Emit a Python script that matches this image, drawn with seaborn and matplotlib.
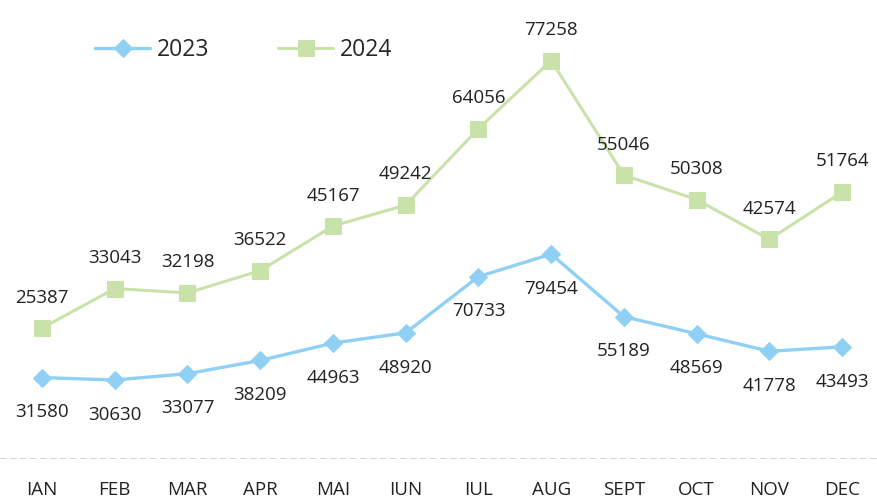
import pandas as pd
import matplotlib.pyplot as plt
import seaborn as sns

months = ["IAN", "FEB", "MAR", "APR", "MAI", "IUN",
          "IUL", "AUG", "SEPT", "OCT", "NOV", "DEC"]
sales_2023 = [31580, 30630, 33077, 38209, 44963, 48920,
              70733, 79454, 55189, 48569, 41778, 43493]
sales_2024 = [25387, 33043, 32198, 36522, 45167, 49242,
              64056, 77258, 55046, 50308, 42574, 51764]

BLUE = "#8fd0f4"
GREEN = "#c9e2aa"

sns.set_style("white")
plt.rcParams["font.family"] = ["Open Sans", "DejaVu Sans"]

df = pd.DataFrame({"pos": range(len(months)), "month": months,
                   "y2023": sales_2023, "y2024": sales_2024})

fig = plt.figure(figsize=(8.77, 5.01), dpi=100)
ax = fig.add_axes([0.0, 42 / 501, 1.0, 459 / 501])
ax2 = ax.twinx()

# 2023 on the primary axis
sns.lineplot(data=df, x="pos", y="y2023", ax=ax, color=BLUE, linewidth=2.4,
             marker="D", markersize=9, markeredgecolor=BLUE, label="2023",
             legend=False)
# 2024 on the secondary axis
sns.lineplot(data=df, x="pos", y="y2024", ax=ax2, color=GREEN, linewidth=2.2,
             marker="s", markersize=11, markeredgecolor=GREEN, label="2024",
             legend=False)

ax.set_ylim(0, 178000)
ax2.set_ylim(0, 89000)
ax.set_xlim(-0.5775, 11.48)

for x, v in zip(df["pos"], df["y2023"]):
    ax.annotate(f"{v}", (x, v), xytext=(0, -25), textcoords="offset points",
                ha="center", va="center", fontsize=13.5, color="#222222")
for x, v in zip(df["pos"], df["y2024"]):
    ax2.annotate(f"{v}", (x, v), xytext=(0, 22), textcoords="offset points",
                 ha="center", va="center", fontsize=13.5, color="#222222")

ax.set_xticks(df["pos"])
ax.set_xticklabels(months, fontsize=13.5, color="#222222")
ax.tick_params(axis="x", length=0, pad=16)
ax.set_yticks([])
ax2.set_yticks([])
ax.set_xlabel("")
ax.set_ylabel("")
ax2.set_ylabel("")

for a in (ax, ax2):
    for s in a.spines.values():
        s.set_visible(False)
ax.axhline(0, color="#cccccc", linewidth=1.2, linestyle=(0, (4, 2)))

h1, l1 = ax.get_legend_handles_labels()
h2, l2 = ax2.get_legend_handles_labels()
ax.legend(h1 + h2, l1 + l2, loc="center left", bbox_to_anchor=(0.085, 0.89),
          ncol=2, frameon=False, fontsize=16.5, handlelength=2.4,
          columnspacing=3.0, handletextpad=0.3)

fig.savefig("out.png", dpi=100)
